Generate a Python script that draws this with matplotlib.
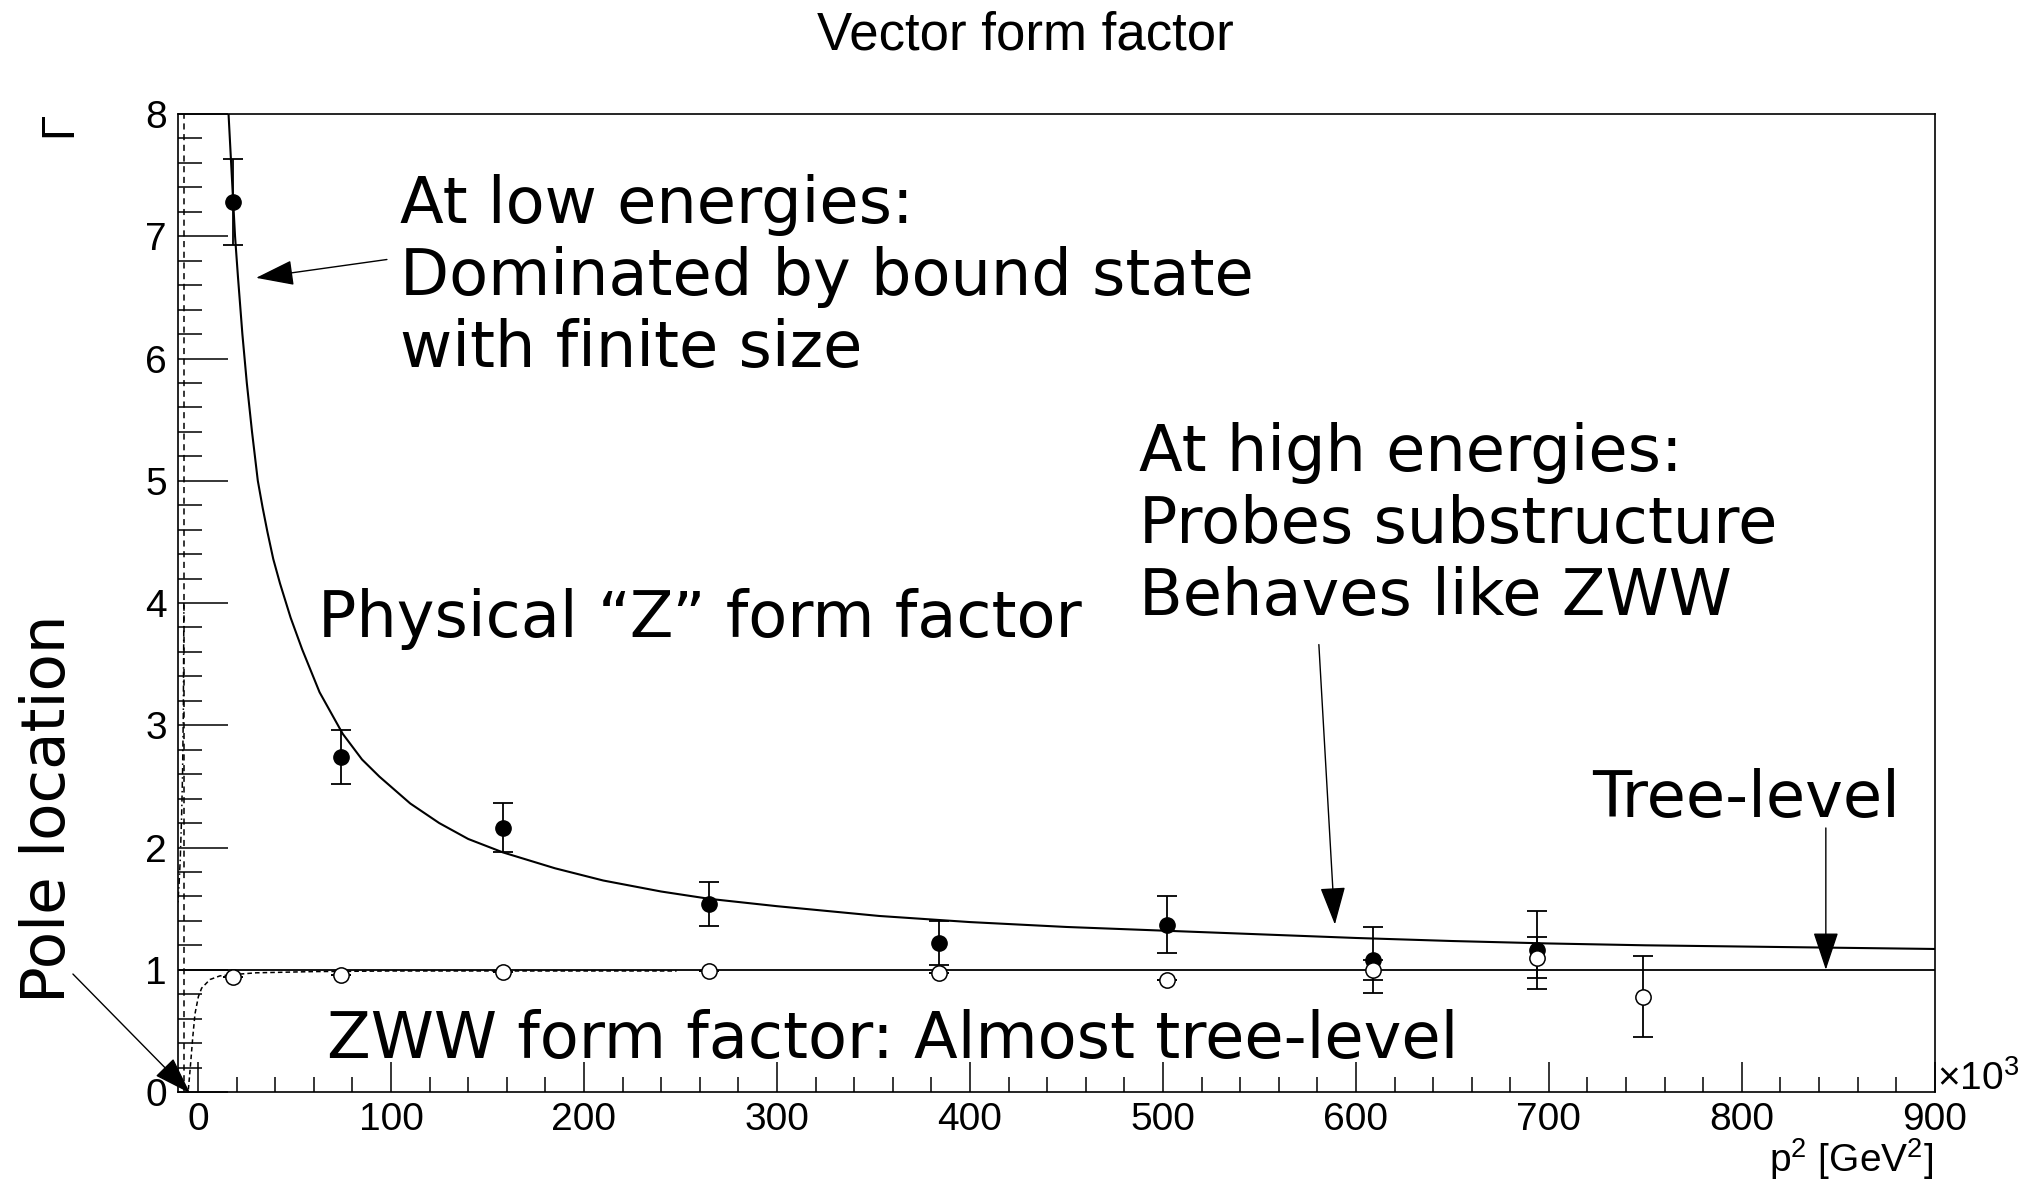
import matplotlib
matplotlib.use('Agg')
import matplotlib.pyplot as plt
from matplotlib.ticker import MultipleLocator

plt.rcParams['font.family'] = ['Liberation Sans', 'DejaVu Sans']
plt.rcParams['mathtext.fontset'] = 'custom'
plt.rcParams['mathtext.rm'] = 'Liberation Sans'
plt.rcParams['mathtext.it'] = 'Liberation Sans:italic'

# measured points: physical "Z" form factor (filled)
z_x = [18, 74, 158, 265, 384, 502, 609, 694]
z_y = [7.28, 2.74, 2.16, 1.54, 1.22, 1.37, 1.08, 1.16]
z_err = [0.35, 0.22, 0.20, 0.18, 0.18, 0.23, 0.27, 0.32]

# measured points: ZWW form factor (open)
zww_x = [18, 74, 158, 265, 384, 502, 609, 694, 749]
zww_y = [0.94, 0.96, 0.98, 0.99, 0.97, 0.92, 1.00, 1.10, 0.78]
zww_err = [0, 0, 0, 0, 0, 0, 0.08, 0.17, 0.33]

# fitted "Z" curve
zfit_x = [15.5, 17.5, 19.2, 20.7, 23, 25.3, 28, 31, 33.5, 36, 39, 42.5, 48, 54,
          63, 75, 85, 94, 110, 125, 140, 158, 185, 210, 240, 265, 300, 353,
          400, 450, 500, 550, 600, 650, 700, 750, 800, 850, 900]
zfit_y = [8.1, 7.5, 7.0, 6.67, 6.2, 5.8, 5.4, 5.0, 4.78, 4.58, 4.36, 4.16,
          3.88, 3.62, 3.27, 2.93, 2.72, 2.58, 2.36, 2.20, 2.07, 1.96, 1.83,
          1.73, 1.64, 1.58, 1.52, 1.44, 1.39, 1.35, 1.32, 1.29, 1.26, 1.235,
          1.215, 1.20, 1.19, 1.18, 1.17]

# branch beyond the pole
zneg_x = [-7.3, -7.6, -8.0, -8.5, -9.2, -9.8, -10.4]
zneg_y = [4.0, 3.1, 2.6, 2.25, 1.9, 1.7, 1.55]

# ZWW curve (dashed)
zwwfit_x = [-5.0, -4.1, -2.7, -1.55, 0.2, 1.9, 6.2, 11.4, 18, 30, 60, 100, 150, 200, 248]
zwwfit_y = [0.02, 0.18, 0.45, 0.64, 0.78, 0.85, 0.92, 0.95, 0.96, 0.975, 0.985,
            0.99, 0.99, 0.99, 0.99]

pole_x = -7.2
tree_level = 1.0

fig = plt.figure(figsize=(20.38, 11.84), dpi=100)
ax = fig.add_axes([0.0873, 0.0777, 0.8621, 0.8260])

ax.axvline(pole_x, color='black', lw=1.1, ls=(0, (4, 3)))
ax.axhline(tree_level, color='black', lw=1.3)
ax.plot(zfit_x, zfit_y, color='black', lw=1.5)
ax.plot(zneg_x, zneg_y, color='black', lw=1.1, ls=(0, (4, 2, 1, 2)))
ax.plot(zwwfit_x, zwwfit_y, color='black', lw=1.1, ls=(0, (3, 2)))

ax.errorbar(z_x, z_y, yerr=z_err, fmt='none', ecolor='black', elinewidth=1.3,
            capsize=7, capthick=1.3, zorder=3)
ax.plot(z_x, z_y, 'o', color='black', ms=11, zorder=4)
ax.errorbar(zww_x, zww_y, yerr=zww_err, fmt='none', ecolor='black', elinewidth=1.3,
            capsize=7, capthick=1.3, zorder=3)
ax.plot(zww_x, zww_y, 'o', mfc='white', mec='black', mew=1.1, ms=11, zorder=5)

ax.set_xlim(-10.4, 900)
ax.set_ylim(0, 8)
ax.xaxis.set_major_locator(MultipleLocator(100))
ax.xaxis.set_minor_locator(MultipleLocator(20))
ax.yaxis.set_major_locator(MultipleLocator(1))
ax.yaxis.set_minor_locator(MultipleLocator(0.2))
ax.tick_params(axis='x', which='major', direction='in', length=21.6, width=1.1,
               labelsize=28, pad=7)
ax.tick_params(axis='x', which='minor', direction='in', length=10.8, width=1.1)
ax.tick_params(axis='y', which='major', direction='in', length=36, width=1.1,
               labelsize=28, pad=8)
ax.tick_params(axis='y', which='minor', direction='in', length=17.3, width=1.1)
for sp in ax.spines.values():
    sp.set_linewidth(1.2)

fig.text(1025 / 2038, 1 - 50 / 1184, 'Vector form factor', ha='center',
         va='baseline', fontsize=38)
fig.text(59 / 2038, 1 - 124 / 1184, '\u0393', rotation=90, ha='center',
         va='center', fontsize=33)
fig.text(1933 / 2038, 1 - 1172 / 1184, r'p$^{2}$ [GeV$^{2}$]', ha='right',
         va='baseline', fontsize=28)
fig.text(1937 / 2038, 1 - 1090 / 1184, '\u00d710$^{3}$', ha='left',
         va='baseline', fontsize=28)

big = dict(family='DejaVu Sans', fontsize=46, color='black', clip_on=False)
ax.text(104.7, 7.51, 'At low energies:\nDominated by bound state\nwith finite size',
        ha='left', va='top', **big)
ax.text(62.2, 3.72, 'Physical \u201cZ\u201d form factor', ha='left', va='baseline', **big)
ax.text(487.6, 5.48, 'At high energies:\nProbes substructure\nBehaves like ZWW',
        ha='left', va='top', **big)
ax.text(722.3, 2.25, 'Tree-level', ha='left', va='baseline', **big)
ax.text(67.1, 0.278, 'ZWW form factor: Almost tree-level', ha='left',
        va='baseline', **big)
ax.text(-68.9, 0.73, 'Pole location', rotation=90, rotation_mode='anchor',
        ha='left', va='baseline', family='DejaVu Sans', fontsize=44, clip_on=False)

arrow = dict(arrowstyle='-|>,head_length=1.2,head_width=0.4', mutation_scale=20,
             color='black', lw=1.0, shrinkA=0, shrinkB=0)
ax.annotate('', xy=(30.1, 6.66), xytext=(97.9, 6.81), arrowprops=arrow)
ax.annotate('', xy=(589.1, 1.37), xytext=(580.8, 3.66), arrowprops=arrow)
ax.annotate('', xy=(843.5, 1.0), xytext=(843.5, 2.16), arrowprops=arrow)
ax.annotate('', xy=(-4.1, -0.01), xytext=(-64.8, 0.965), arrowprops=arrow,
            annotation_clip=False)

fig.savefig('out.png', dpi=100)
